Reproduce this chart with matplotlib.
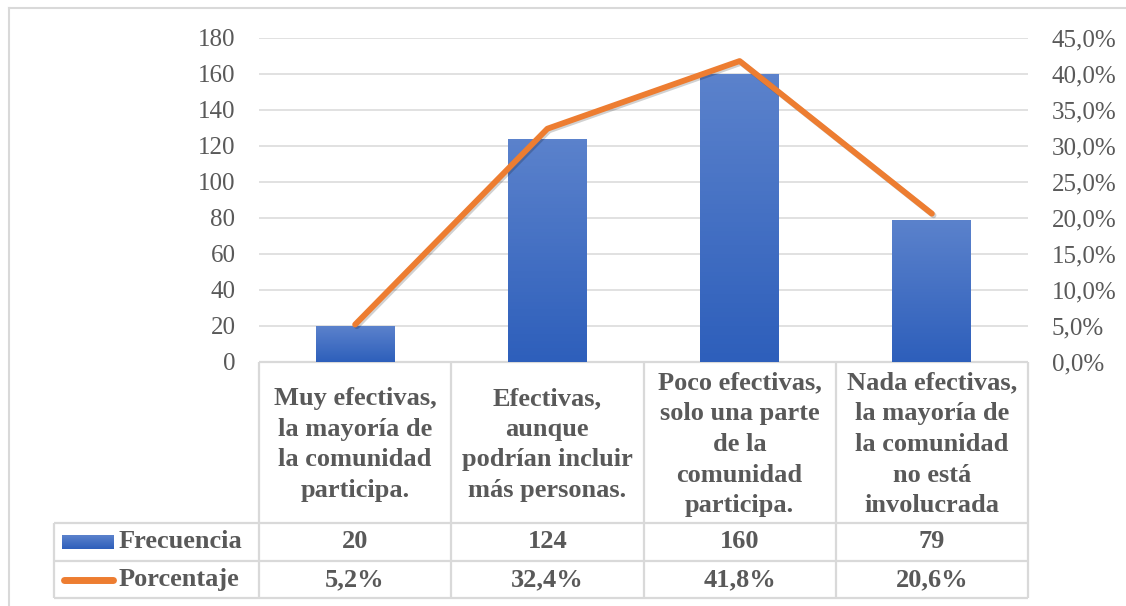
"""Frecuencia / porcentaje chart with Excel-style data table underneath."""
import matplotlib
matplotlib.use("Agg")
import matplotlib.pyplot as plt
import matplotlib.patheffects as pe
import numpy as np
from matplotlib.colors import LinearSegmentedColormap
from matplotlib.ticker import FuncFormatter, MultipleLocator

plt.rcParams["font.family"] = ["Liberation Serif", "DejaVu Serif"]

# --- data ---------------------------------------------------------------
categorias = [
    "Muy efectivas,\nla mayoría de\nla comunidad\nparticipa.",
    "Efectivas,\naunque\npodrían incluir\nmás personas.",
    "Poco efectivas,\nsolo una parte\nde la\ncomunidad\nparticipa.",
    "Nada efectivas,\nla mayoría de\nla comunidad\nno está\ninvolucrada",
]
frecuencia = [20, 124, 160, 79]
porcentaje = [5.2, 32.4, 41.8, 20.6]
series = ["Frecuencia", "Porcentaje"]

# --- style --------------------------------------------------------------
_TEXT = "#595959"
_GRID = "#d9d9d9"
_ORANGE = "#ED7D31"
_bar_cmap = LinearSegmentedColormap.from_list("bar", ["#5b82cc", "#2e5fbb"])

W, H = 1126, 606
fig = plt.figure(figsize=(W / 100, H / 100), dpi=100)
fig.patch.set_facecolor("white")

# plot area (pixel box: x 259..1028, y 38..362)
ax = fig.add_axes([259 / W, (H - 362) / H, 769 / W, 324 / H], zorder=2)
ax.patch.set_visible(False)
x = np.arange(len(categorias))
bars = ax.bar(x, frecuencia, width=0.41, color="none", zorder=2)
grad = np.linspace(0, 1, 64).reshape(-1, 1)
for b in bars:
    bx, bw, bh = b.get_x(), b.get_width(), b.get_height()
    im = ax.imshow(grad, extent=[bx, bx + bw, 0, bh], origin="upper",
                   aspect="auto", cmap=_bar_cmap, zorder=2)
    im.set_clip_path(b)
ax.set_xlim(-0.5, len(categorias) - 0.5)
ax.set_ylim(0, 180)
ax.yaxis.set_major_locator(MultipleLocator(20))
ax.grid(axis="y", color=_GRID, linewidth=1.1, zorder=0)
ax.set_axisbelow(True)
ax.set_xticks([])
ax.tick_params(axis="y", length=0, pad=17, labelsize=18, labelcolor=_TEXT)
for s in ax.spines.values():
    s.set_visible(False)

ax2 = ax.twinx()
ax2.patch.set_visible(False)
ax2.plot(x, np.array(porcentaje) / 100, color=_ORANGE, linewidth=4.2,
         solid_capstyle="round", solid_joinstyle="round", zorder=3,
         path_effects=[pe.SimpleLineShadow(offset=(1.2, -1.2), alpha=0.18,
                                           shadow_color="black"),
                       pe.Normal()])
ax2.set_ylim(0, 0.45)
ax2.yaxis.set_major_locator(MultipleLocator(0.05))
ax2.yaxis.set_major_formatter(FuncFormatter(lambda v, _: f"{v * 100:.1f}%".replace(".", ",")))
ax2.tick_params(axis="y", length=0, pad=17, labelsize=18, labelcolor=_TEXT)
for s in ax2.spines.values():
    s.set_visible(False)

# --- overlay in pixel coordinates: border + data table -------------------
ov = fig.add_axes([0, 0, 1, 1], zorder=1)
ov.set_xlim(0, W)
ov.set_ylim(H, 0)
ov.axis("off")

# chart outer border
ov.plot([9, 9], [8, H + 5], color=_GRID, lw=1.5)
ov.plot([9, W + 5], [8, 8], color=_GRID, lw=1.5)

x0, x1 = 259, 1028
col_w = (x1 - x0) / len(categorias)
y_top, y_head, y_r1, y_r2 = 362, 523, 561, 598
leg_x = 54
tkw = dict(color=_GRID, lw=1.6, solid_capstyle="butt")
ov.plot([x0, x1], [y_top, y_top], **tkw)
for yy in (y_head, y_r1, y_r2):
    ov.plot([leg_x, x1], [yy, yy], **tkw)
for i in range(len(categorias) + 1):
    ov.plot([x0 + i * col_w] * 2, [y_top, y_r2], **tkw)
ov.plot([leg_x, leg_x], [y_head, y_r2], **tkw)

bold = dict(fontsize=19, fontweight="bold", color=_TEXT)
for i, lab in enumerate(categorias):
    cx = x0 + (i + 0.5) * col_w
    ov.text(cx, (y_top + y_head) / 2 + 2, lab, ha="center", va="center",
            linespacing=1.43, **bold)
    ov.text(cx, (y_head + y_r1) / 2, str(frecuencia[i]), ha="center", va="center", **bold)
    ov.text(cx, (y_r1 + y_r2) / 2, f"{porcentaje[i]:.1f}%".replace(".", ","),
            ha="center", va="center", **bold)

# legend keys inside the table
ov.imshow(grad, extent=[62, 114, 549, 535], origin="upper", aspect="auto",
          cmap=_bar_cmap, zorder=3)
ov.plot([63.5, 112.5], [580, 580], color=_ORANGE, lw=5, solid_capstyle="round")
ov.text(119, (y_head + y_r1) / 2, series[0], ha="left", va="center", **bold)
ov.text(119, (y_r1 + y_r2) / 2, series[1], ha="left", va="center", **bold)
ov.set_xlim(0, W)
ov.set_ylim(H, 0)

fig.savefig("out.png", dpi=100, facecolor="white")
